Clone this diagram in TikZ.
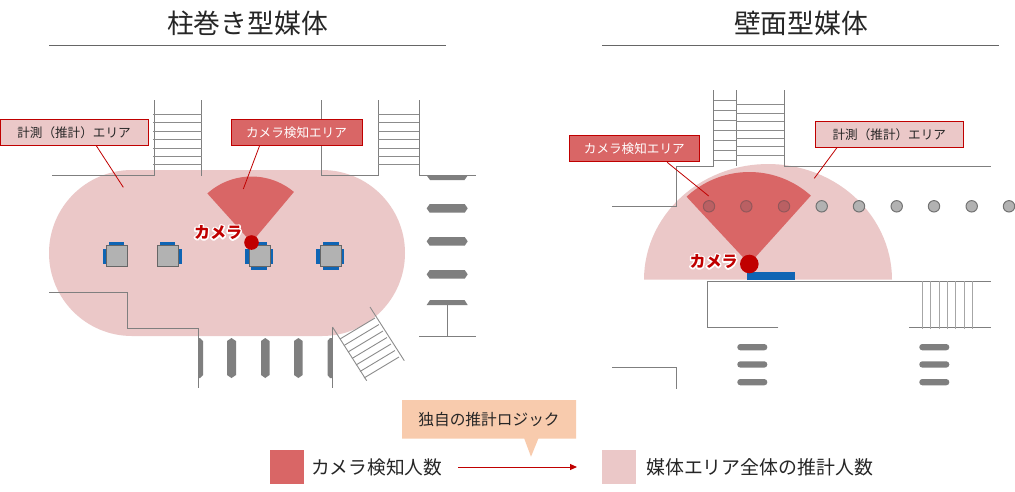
\documentclass[tikz,border=0pt]{standalone}
\usepackage{fontspec}
\setmainfont{Noto Sans CJK JP}
\usetikzlibrary{arrows.meta,calc}
\definecolor{pinkA}{HTML}{EBC8C8}
\definecolor{redA}{HTML}{D96666}
\definecolor{redB}{HTML}{C00000}
\definecolor{wallC}{HTML}{7F7F7F}
\definecolor{rungC}{HTML}{8C8C8C}
\definecolor{barC}{HTML}{7F7F7F}
\definecolor{blueC}{HTML}{0F65B4}
\definecolor{peachC}{HTML}{F8CBAD}
\definecolor{textC}{HTML}{262626}
\definecolor{dotF}{HTML}{BA6063}
\definecolor{dotD}{HTML}{94575A}
\newcommand{\fsz}[1]{\fontsize{#1}{#1}\selectfont}
\newcommand{\glowed}[2]{\fsz{#1}\bfseries\rlap{\special{pdf:code q 3 w 1 j 1 1 1 RG 1 1 1 rg 2 Tr}#2\special{pdf:code 0 Tr Q}}\textcolor{redB}{#2}}
\newcommand{\hexH}[4]{\fill[barC] (#1+3,#3) -- (#2-3,#3) -- (#2,#3/2+#4/2) -- (#2-3,#4) -- (#1+3,#4) -- (#1,#3/2+#4/2) -- cycle;}
\newcommand{\hexV}[4]{\fill[barC] (#1,#3+3) -- (#1/2+#2/2,#3) -- (#2,#3+3) -- (#2,#4-3) -- (#1/2+#2/2,#4) -- (#1,#4-3) -- cycle;}
\newcommand{\pillH}[3]{\fill[barC,rounded corners=3pt] (#1,#3) rectangle (#2,#3+6.3);}
\newcommand{\chair}[2]{\draw[chairbox] (#1,#2) rectangle +(21.5,21.5);}
\tikzset{
  wall/.style={draw=wallC,line width=1pt},
  rung/.style={draw=rungC,line width=0.9pt},
  lbl/.style={draw=redB,line width=1pt,inner sep=0pt,minimum height=26pt,fsz=12.6},
  fsz/.code={\fsz{#1}},
  leader/.style={draw=redB,line width=0.8pt},
  chairbox/.style={fill=black!30,draw=black!60,line width=1pt},
  seat/.style={fill=blueC},
  title/.style={inner sep=0pt,text=textC,fsz=26.8},
  legend/.style={inner sep=0pt,text=textC,fsz=18.7,anchor=west},
  rule/.style={draw=black!60,line width=0.8pt}
}
\begin{document}
\begin{tikzpicture}[x=1pt,y=-1pt]
\useasboundingbox (0,0) rectangle (1015,491);
\fill[white] (0,0) rectangle (1015,491);
% titles
\node[title] (titleL) at (247.5,23) {柱巻き型媒体};
\node[title] (titleR) at (801,23) {壁面型媒体};
\draw[rule] (49,45) -- (446,45);
\draw[rule] (602,45) -- (999,45);
% ---- left plan ----
\fill[pinkA,rounded corners=83pt] (49,170) rectangle (405,336);
\draw[wall] (52,175.5) -- (154,175.5) -- (154,100);
\draw[wall] (201.5,100) -- (201.5,176);
\draw[wall] (321,100) -- (321,175.5) -- (378,175.5) -- (378,100);
\draw[wall] (419,100) -- (419,175.5) -- (476,175.5);
\foreach \y in {114,122,131,139,148,156,164}{
  \draw[rung] (153,\y) -- (201.5,\y);
  \draw[rung] (378,\y) -- (419,\y);
}
\draw[wall] (49,292) -- (127,292) -- (127,328.5) -- (198.5,328.5) -- (198.5,388);
\draw[wall] (332.5,327) -- (332.5,388);
\draw[wall] (419,336.5) -- (476,336.5);
\draw[wall] (447,336.5) -- (447,305);
\draw[rung] (332.5,327) -- (366.7,380.7);
\draw[rung] (370,307) -- (404.3,360.7);
\foreach \i in {0,...,6}{
  \draw[rung] (340+\i*4,339+\i*6.5) -- (375+\i*4,318+\i*6.5);
}
% right-side bars
\fill[barC] (426.7,175.5) -- (467.7,175.5) -- (464.5,180) -- (430,180) -- cycle;
\hexH{426.7}{467.7}{204}{212.7}
\hexH{426.7}{467.7}{237}{245.7}
\hexH{426.7}{467.7}{270}{278.7}
\fill[barC] (430,300) -- (464.5,300) -- (467.7,305) -- (426.7,305) -- cycle;
% bottom bars
\fill[barC] (198.5,338) -- (200,338) -- (203,341) -- (203,375) -- (200,378) -- (198.5,378) -- cycle;
\hexV{227}{236}{338}{378}
\hexV{261}{269.5}{338}{378}
\hexV{294}{302.7}{338}{378}
\fill[barC] (332,338) -- (330,338) -- (327.5,341) -- (327.5,375) -- (330,378) -- (332,378) -- cycle;
% chairs
\fill[seat] (109,242) rectangle (124,246);
\fill[seat] (103,248.5) rectangle (107,263.5);
\chair{106}{245}
\fill[seat] (160,242) rectangle (175,246);
\fill[seat] (178,248.5) rectangle (181.7,263.5);
\chair{157}{245}
\fill[seat] (251.5,242) rectangle (266.5,246);
\fill[seat] (245,248.5) rectangle (249,263.5);
\fill[seat] (270,248.5) rectangle (273.2,263.5);
\fill[seat] (251,266) rectangle (266.7,269.7);
\chair{249}{245}
\fill[seat] (323,242) rectangle (338.5,246);
\fill[seat] (316,248.5) rectangle (320,263.5);
\fill[seat] (341,248.5) rectangle (344.2,263.5);
\fill[seat] (323,266) rectangle (338.5,269.7);
\chair{320}{245}
% fan + camera
\fill[redA] (251.5,242.5) -- plot[domain=50:132,samples=30] ({251.5+66*cos(\x)},{242.5-66*sin(\x)}) -- cycle;
\node[circle,fill=redB,minimum size=14.6pt,inner sep=0pt] (camL) at (251.5,242.5) {};
\node[inner sep=0pt] (camLtxt) at (218,232.5) {\glowed{16}{カメラ}};
% labels
\node[lbl,fill=pinkA,text=textC,minimum width=148pt] (lblA) at (74,132.3) {計測（推計）エリア};
\node[lbl,fill=redA,text=white,minimum width=131pt] (lblB) at (296.5,132.3) {カメラ検知エリア};
\coordinate (endA) at (123.3,187.3);
\coordinate (endB) at (243.3,189);
\draw[leader] ($(lblA.south west)!0.65!(lblA.south east)$) -- (endA);
\draw[leader] ($(lblB.south west)!0.22!(lblB.south east)$) -- (endB);
% ---- right plan ----
\fill[pinkA] plot[domain=0:180,samples=60] ({768+124*cos(\x)},{279.7-115.7*sin(\x)}) -- cycle;
\draw[wall] (713.7,90) -- (713.7,166.3) -- (676.3,166.3) -- (676.3,206.3) -- (612.3,206.3);
\draw[wall] (736.3,90) -- (736.3,166);
\draw[wall] (784.3,90) -- (784.3,166.3) -- (990.7,166.3);
\foreach \y in {100,110.3,120.3,130.3,140.3,150.3,160}{
  \draw[rung] (713.7,\y) -- (736.3,\y);
}
\foreach \y in {104.3,113.3,121.7,130.3,138.3,146.3,155.3}{
  \draw[rung] (736.3,\y) -- (784.3,\y);
}
\draw[wall] (778.3,327.3) -- (707.3,327.3) -- (707.3,281) -- (990.7,281);
\draw[wall] (909.3,327.3) -- (990.7,327.3);
\foreach \x in {922.3,930.7,939.3,947.7,955.7,964.3,972.7}{
  \draw[rung,draw=black!35] (\x,281) -- (\x,328.5);
}
\draw[wall] (612.3,367.3) -- (676.3,367.3) -- (676.3,389);
\pillH{737.3}{767.3}{344}
\pillH{737.3}{767.3}{361.3}
\pillH{737.3}{767.3}{379}
\pillH{919.3}{949.3}{344}
\pillH{919.3}{949.3}{361.3}
\pillH{919.3}{949.3}{379}
\foreach \x in {821.7,859,896.7,934,971.7,1009}{
  \fill[black!30] (\x,206.3) circle[radius=5.7pt];
  \draw[black!55,line width=1pt] (\x,206.3) circle[radius=5.7pt];
}
\fill[redA] (749.3,264) -- plot[domain=48:133,samples=40] ({749.3+92*cos(\x)},{264-92*sin(\x)}) -- cycle;
\foreach \x in {709,746.3,784}{
  \fill[dotF] (\x,206.3) circle[radius=5.7pt];
  \draw[dotD,line width=1pt] (\x,206.3) circle[radius=5.7pt];
}
\fill[blueC] (747,272) rectangle (795,279.7);
\node[circle,fill=redB,minimum size=18.6pt,inner sep=0pt] (camR) at (749.3,264) {};
\node[inner sep=0pt] (camRtxt) at (713.5,261.5) {\glowed{16}{カメラ}};
\node[lbl,fill=redA,text=white,minimum width=130pt] (lblC) at (634.3,148.7) {カメラ検知エリア};
\node[lbl,fill=pinkA,text=textC,minimum width=148pt] (lblD) at (889.3,134.5) {計測（推計）エリア};
\coordinate (endC) at (708.7,196);
\coordinate (endD) at (814.3,178.3);
\draw[leader] ($(lblC.south west)!0.75!(lblC.south east)$) -- (endC);
\draw[leader] ($(lblD.south west)!0.147!(lblD.south east)$) -- (endD);
% ---- legend ----
\fill[peachC] (402,400) -- (576,400) -- (576,438.7) -- (538.3,438.7) -- (531,456.7) -- (524.3,438.7) -- (402,438.7) -- cycle;
\node[inner sep=0pt,text=textC,fsz=15.7] (logic) at (489,420) {独自の推計ロジック};
\node[fill=redA,minimum size=34pt,inner sep=0pt] (sqA) at (287,467) {};
\node[legend] (txtA) at (311,467) {カメラ検知人数};
\node[fill=pinkA,minimum size=34pt,inner sep=0pt] (sqB) at (619,467) {};
\node[legend,fsz=18.9] (txtB) at (646,467) {媒体エリア全体の推計人数};
\coordinate (arrS) at (458.3,467);
\coordinate (arrE) at (577,467);
\draw[redB,line width=1pt,-{Triangle[length=7pt,width=6pt]}] (arrS) -- (arrE);
\end{tikzpicture}
\end{document}
